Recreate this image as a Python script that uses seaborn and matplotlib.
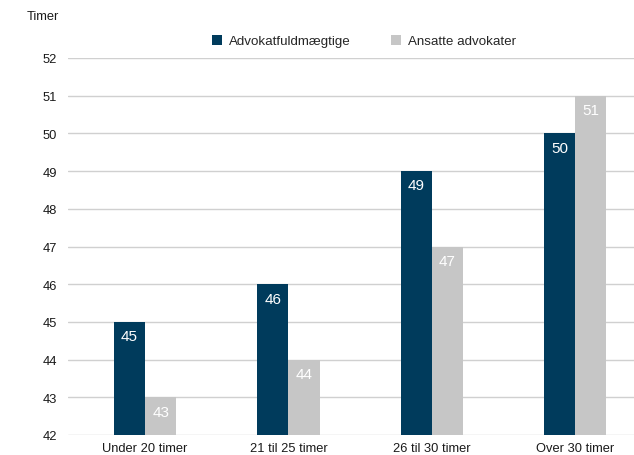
import pandas as pd
import matplotlib
matplotlib.use("Agg")
import matplotlib.pyplot as plt
import seaborn as sns

# ==============================
# Data
# ==============================
categories = ["Under 20 timer", "21 til 25 timer", "26 til 30 timer", "Over 30 timer"]
series_names = ["Advokatfuldmægtige", "Ansatte advokater"]
fuldmaegtige = [45, 46, 49, 50]
advokater = [43, 44, 47, 51]

df = pd.DataFrame({
    "Kategori": categories * 2,
    "Gruppe": [series_names[0]] * 4 + [series_names[1]] * 4,
    "Timer": fuldmaegtige + advokater,
})

sns.set_theme(style="white")
plt.rcParams["font.family"] = ["Liberation Sans", "DejaVu Sans"]

palette = {series_names[0]: "#003b5c", series_names[1]: "#c6c6c6"}

fig = plt.figure(figsize=(6.34, 4.56), dpi=100)
ax = fig.add_axes([68 / 634, 1 - 436 / 456, 1 - 68 / 634, (436 - 59) / 456])

sns.barplot(data=df, x="Kategori", y="Timer", hue="Gruppe", palette=palette,
            width=0.434, saturation=1, linewidth=0, ax=ax, zorder=3)

ax.set_ylim(42, 52)
ax.set_xlim(-0.538, 3.41)
ax.set_yticks(range(42, 53))
ax.grid(axis="y", color="#d0d0d0", linewidth=1, zorder=0)
ax.set_axisbelow(True)
for s in ax.spines.values():
    s.set_visible(False)
ax.tick_params(axis="y", length=0, pad=8, labelsize=9.3, labelcolor="#1a1a1a")
ax.tick_params(axis="x", length=0, pad=5, labelsize=9.3, labelcolor="#1a1a1a")
ax.set_xlabel("")
ax.set_ylabel("")

# value labels inside the bars
for cont in ax.containers:
    for bar in cont:
        h = bar.get_height()
        ax.text(bar.get_x() + bar.get_width() / 2, h - 0.38, f"{h:.0f}",
                ha="center", va="center", color="white", fontsize=11, zorder=4)

fig.text(27 / 634, 1 - 17 / 456, "Timer", ha="left", va="center", fontsize=9.3, color="#1a1a1a")

ax.legend(loc="center", bbox_to_anchor=((364 - 68) / 566, 1 + (59 - 42) / (436 - 59)),
          ncol=2, frameon=False, fontsize=9.6, handlelength=0.8, handleheight=0.8,
          columnspacing=3.0, handletextpad=0.5)

fig.savefig("out.png", dpi=100)
